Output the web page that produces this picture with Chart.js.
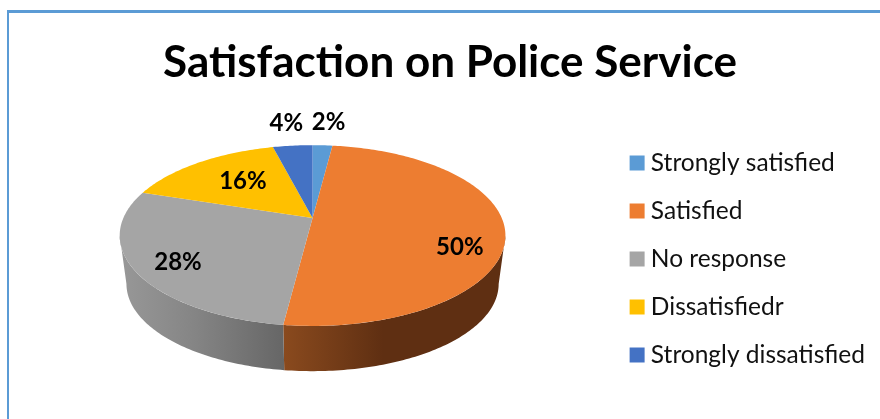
<!DOCTYPE html>
<html lang="en">
<head>
    <meta charset="UTF-8">
    <title>Satisfaction on Police Service</title>
    <script src="https://cdn.jsdelivr.net/npm/chart.js"></script>
    <style>
        html, body { margin: 0; background: #fff; overflow: hidden; height: 100%; }
        .frame { position: absolute; left: 7px; top: 10px; width: 1000px; height: 1000px;
                 border-left: 2px solid #5B9BD5; border-top: 3px solid #5B9BD5; }
        canvas { position: absolute; left: 0; top: 0; }
    </style>
</head>
<body>
<div class="frame"></div>
<canvas id="myChart" width="880" height="419"></canvas>
<script>
var titleText = 'Satisfaction on Police Service';
var categories = ['Strongly satisfied', 'Satisfied', 'No response', 'Dissatisfiedr', 'Strongly dissatisfied'];
var shares = [2, 50, 28, 16, 4];
var colors = ['#5B9BD5', '#ED7D31', '#A5A5A5', '#FFC000', '#4472C4'];

// side wall shading, left to right, only the slices that reach the front
var wallShades = [null, ['#8A4A1E', '#5F2F12', '#5F2F12'], ['#989898', '#858585', '#666666'], null, null];

// how far out along its slice each label sits, plus a small nudge in px
var labelRadius = [1.4, 0.78, 0.78, 0.6, 1.4];
var labelNudge = [[3, 0], [-2, 20], [1, 5], [2, -2], [0, 0]];

var stretchX = 1.605;
var squashY = 0.738;
var perspective = 0.193;
var depth = 49;
var bottomScale = 0.965;

// tilted disc: angle runs clockwise from 12 o'clock, r is 1 on the rim
function project(arc, angle, r, scale, drop) {
    var u = Math.sin(angle) * r;
    var v = -Math.cos(angle) * r;
    var d = 1 - perspective * v;
    return {
        x: arc.x + scale * stretchX * arc.outerRadius * u / d,
        y: arc.y + drop + scale * squashY * arc.outerRadius * v / d
    };
}

function rim(arc, from, to, scale, drop) {
    var pts = [];
    var steps = Math.max(2, Math.ceil(Math.abs(to - from) * 60));
    for (var i = 0; i <= steps; i++) {
        pts.push(project(arc, from + (to - from) * i / steps, 1, scale, drop));
    }
    return pts;
}

function fillPath(ctx, pts, fill) {
    ctx.beginPath();
    pts.forEach(function (p, i) {
        if (i === 0) ctx.moveTo(p.x, p.y); else ctx.lineTo(p.x, p.y);
    });
    ctx.closePath();
    ctx.fillStyle = fill;
    ctx.fill();
}

var tiltedPie = {
    id: 'tiltedPie',
    afterLayout: function (chart) {
        // legend sits lower than the space the layout gives it, title a bit to the right
        var legend = chart.legend;
        legend.left -= 5;
        legend.right -= 5;
        legend.top += 91;
        legend.bottom += 91;
        chart.titleBlock.left += 6;
        chart.titleBlock.right += 6;
    },
    beforeDatasetDraw: function (chart) {
        var ctx = chart.ctx;
        var arcs = chart.getDatasetMeta(0).data;
        var frontStart = Math.acos(-perspective);
        var frontEnd = 2 * Math.PI - frontStart;

        arcs.forEach(function (arc, i) {
            if (!wallShades[i]) return;
            var a = Math.max(arc.startAngle + Math.PI / 2, frontStart);
            var b = Math.min(arc.endAngle + Math.PI / 2, frontEnd);
            if (b <= a) return;
            var top = rim(arc, a, b, 1, 0);
            var bottom = rim(arc, a, b, bottomScale, depth);
            var xs = top.concat(bottom).map(function (p) { return p.x; });
            var minX = Math.min.apply(null, xs);
            var maxX = Math.max.apply(null, xs);
            var grad = ctx.createLinearGradient(minX, 0, maxX, 0);
            var shades = wallShades[i];
            grad.addColorStop(0, shades[0]);
            grad.addColorStop(0.45, shades[1]);
            grad.addColorStop(1, shades[2]);
            fillPath(ctx, top.concat(bottom.reverse()), grad);
        });

        arcs.forEach(function (arc, i) {
            var a = arc.startAngle + Math.PI / 2;
            var b = arc.endAngle + Math.PI / 2;
            var pts = [project(arc, 0, 0, 1, 0)].concat(rim(arc, a, b, 1, 0));
            fillPath(ctx, pts, colors[i]);
        });

        ctx.save();
        ctx.font = 'bold 24px Lato';
        ctx.fillStyle = '#000';
        ctx.textAlign = 'center';
        ctx.textBaseline = 'middle';
        arcs.forEach(function (arc, i) {
            var mid = (arc.startAngle + arc.endAngle) / 2 + Math.PI / 2;
            var p = project(arc, mid, labelRadius[i], 1, 0);
            ctx.fillText(shares[i] + '%', p.x + labelNudge[i][0], p.y + labelNudge[i][1]);
        });
        ctx.restore();
        return false;
    }
};

var myChart = new Chart(document.getElementById('myChart').getContext('2d'), {
    type: 'pie',
    data: {
        labels: categories,
        datasets: [{ data: shares, backgroundColor: colors, borderWidth: 0 }]
    },
    options: {
        responsive: false,
        animation: false,
        layout: { padding: { left: 8, right: 0, top: 0, bottom: 83 } },
        plugins: {
            title: {
                display: true,
                text: titleText,
                color: '#000',
                font: { family: 'Lato', size: 44, weight: 'bold' },
                padding: { top: 36, bottom: 11.4 }
            },
            legend: {
                position: 'right',
                labels: {
                    usePointStyle: true,
                    pointStyle: 'rect',
                    boxWidth: 3,
                    boxHeight: 15,
                    padding: 23.5,
                    color: '#111',
                    font: { family: 'Lato', size: 24.5 }
                }
            },
            tooltip: { enabled: false }
        }
    },
    plugins: [tiltedPie]
});
</script>
</body>
</html>
